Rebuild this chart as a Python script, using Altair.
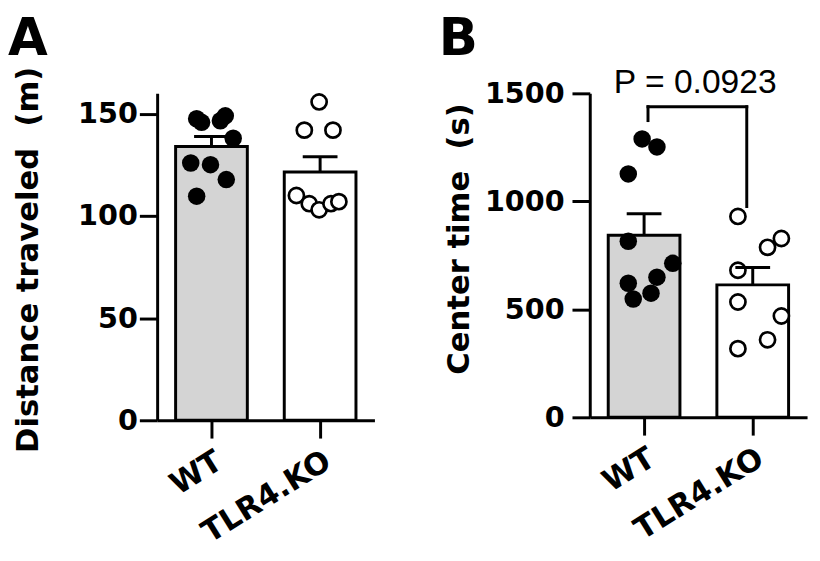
import altair as alt
import pandas as pd
import numpy as np

groups = ["WT", "TLR4.KO"]

# Panel A: Distance traveled (m)
dist_wt = [147.6, 145.8, 146.6, 149.0, 138.0, 125.9, 125.1, 117.8, 109.7]
dist_ko = [155.8, 142.0, 142.0, 110.0, 106.0, 103.0, 106.0, 107.0]
# Panel B: Center time (s)
center_wt = [1289, 1252, 1127, 815, 713, 649, 621, 575, 548]
center_ko = [930, 828, 787, 681, 534, 469, 359, 318]

# horizontal scatter of the dots (pixels from the group centre)
jit_a_wt = [-15, -10, 9, 14, 22, -21, -1, 15, -15]
jit_a_ko = [-1, -16, 13, -24, -11, -1, 11, 19]
jit_b_wt = [-2, 13, -16, -16, 29, 13, -16, 7, -11]
jit_b_ko = [-15, 29, 15, -15, -15, 29, 15, -15]

# significance bracket for panel B
p_label = "P = 0.0923"
bracket_x = [0.536, 1.445]
bracket_top = 1438
bracket_left_end = 1374
bracket_right_end = 976

PW = 220.0  # plot width in px
CENTERS = [0.5, 1.5]
BAR_HALF = 0.33
CAP_HALF = 0.16
BOLD = "DejaVu Sans"


def panel(vals_wt, vals_ko, jit_wt, jit_ko, ymax, yticks, height, title,
          letter, label_pad, title_x, title_y, extra=None):
    xscale = alt.Scale(domain=[0, 2], nice=False, zero=False)
    yscale = alt.Scale(domain=[0, ymax], nice=False)
    xaxis = alt.Axis(values=CENTERS,
                     labelExpr="datum.value < 1 ? 'WT' : 'TLR4.KO'",
                     title=None, labelAngle=328, labelAlign="right",
                     labelBaseline="top", labelFont=BOLD, labelFontSize=31,
                     labelFontWeight="bold", labelColor="black",
                     labelPadding=8, tickSize=18, tickWidth=3,
                     tickColor="black", domainWidth=3, domainColor="black",
                     grid=False, labelFlush=False, labelOverlap=False)
    yaxis = alt.Axis(values=yticks, format="d", title=title, titleFont=BOLD,
                     titleFontSize=31, titleFontWeight="bold",
                     titleColor="black", titleAngle=-90, titleX=title_x,
                     titleY=title_y, titleAlign="center",
                     titleBaseline="middle", labelFont=BOLD,
                     labelFontSize=29, labelFontWeight="bold",
                     labelColor="black", labelPadding=label_pad,
                     tickSize=18, tickWidth=3, tickColor="black",
                     domainWidth=3, domainColor="black", grid=False,
                     labelFlush=False, labelOverlap=False)

    vals = [vals_wt, vals_ko]
    means = [float(np.mean(v)) for v in vals]
    sems = [float(np.std(v, ddof=1) / np.sqrt(len(v))) for v in vals]
    summ = pd.DataFrame({
        "grp": groups,
        "xc": CENTERS,
        "x1": [c - BAR_HALF for c in CENTERS],
        "x2": [c + BAR_HALF for c in CENTERS],
        "c1": [c - CAP_HALF for c in CENTERS],
        "c2": [c + CAP_HALF for c in CENTERS],
        "mean": means,
        "top": [m + s for m, s in zip(means, sems)],
        "zero": [0, 0],
        "fill": ["#d4d4d4", "#ffffff"],
    })
    pts_wt = pd.DataFrame({"x": [CENTERS[0] + j / PW * 2 for j in jit_wt],
                           "v": vals_wt})
    pts_ko = pd.DataFrame({"x": [CENTERS[1] + j / PW * 2 for j in jit_ko],
                           "v": vals_ko})

    X = lambda f: alt.X(f, scale=xscale, axis=xaxis)
    Y = lambda f: alt.Y(f, scale=yscale, axis=yaxis)

    bars = alt.Chart(summ).mark_bar(stroke="black", strokeWidth=3).encode(
        x=X("x1:Q"), x2="x2:Q", y=Y("mean:Q"), y2="zero:Q",
        fill=alt.Fill("fill:N", scale=None))
    dots_wt = alt.Chart(pts_wt).mark_circle(
        size=314, color="black", opacity=1).encode(x=X("x:Q"), y=Y("v:Q"))
    dots_ko = alt.Chart(pts_ko).mark_circle(
        size=235, fill="white", stroke="black", strokeWidth=2.7,
        opacity=1).encode(x=X("x:Q"), y=Y("v:Q"))
    stem = alt.Chart(summ).mark_rule(color="black", strokeWidth=3).encode(
        x=X("xc:Q"), y=Y("mean:Q"), y2="top:Q")
    cap = alt.Chart(summ).mark_rule(color="black", strokeWidth=3).encode(
        x=X("c1:Q"), x2="c2:Q", y=Y("top:Q"))
    let = alt.Chart(pd.DataFrame({"t": [letter]})).mark_text(
        font=BOLD, fontSize=52, fontWeight="bold", align="left",
        baseline="alphabetic", color="black").encode(
        text="t:N", x=alt.value(title_x - 21), y=alt.value(-39))

    layers = [bars, dots_wt, dots_ko, stem, cap]
    if extra is not None:
        layers += extra(X, Y)
    layers.append(let)
    return alt.layer(*layers).properties(width=PW, height=height)


def bracket_layers(X, Y):
    bdf = pd.DataFrame({
        "x": [bracket_x[0], bracket_x[0], bracket_x[1]],
        "x2": [bracket_x[1], bracket_x[0], bracket_x[1]],
        "y": [bracket_top, bracket_top, bracket_top],
        "y2": [bracket_top, bracket_left_end, bracket_right_end],
    })
    br = alt.Chart(bdf).mark_rule(color="black", strokeWidth=3,
                                  strokeCap="square").encode(
        x=X("x:Q"), x2="x2:Q", y=Y("y:Q"), y2="y2:Q")
    tdf = pd.DataFrame({"t": [p_label], "x": [sum(bracket_x) / 2 - 0.02],
                        "y": [1500]})
    txt = alt.Chart(tdf).mark_text(font="Liberation Sans", fontSize=34,
                                   align="center", baseline="alphabetic",
                                   color="black").encode(
        text="t:N", x=X("x:Q"), y=Y("y:Q"))
    return [br, txt]


A = panel(dist_wt, dist_ko, jit_a_wt, jit_a_ko, 160, [0, 50, 100, 150], 331,
          "Distance traveled\u00a0\u00a0(m)", "A", 2, -130, 168)
B = panel(center_wt, center_ko, jit_b_wt, jit_b_ko, 1500,
          [0, 500, 1000, 1500], 328, "Center time\u00a0\u00a0(s)", "B", 8,
          -132, 147, extra=bracket_layers)

chart = alt.hconcat(A, B, spacing=65).properties(
    padding={"left": 0, "top": 2, "right": 5, "bottom": 5},
    background="white",
).configure_view(stroke=None)

chart.save("out.html", embed_options={"renderer": "svg", "actions": False})
